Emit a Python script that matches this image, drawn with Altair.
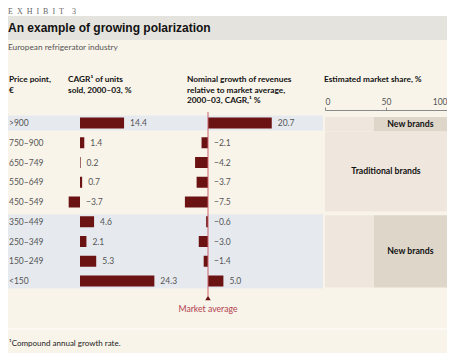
import altair as alt
import pandas as pd

# ---------------- data ----------------
prices = [">900", "750–900", "650–749", "550–649", "450–549",
          "350–449", "250–349", "150–249", "<150"]
cagr_units = [14.4, 1.4, 0.2, 0.7, -3.7, 4.6, 2.1, 5.3, 24.3]
nominal_growth = [20.7, -2.1, -4.2, -3.7, -7.5, -0.6, -3.0, -1.4, 5.0]

# highlighted (new-brand) row groups: first and last row index
highlight_first = [0, 5]
highlight_last = [0, 8]

# estimated market share blocks
share_first = [0, 0, 1, 5, 5]
share_last = [0, 0, 4, 8, 8]
share_brand = ["Traditional", "New", "Traditional", "Traditional", "New"]
share_start = [0, 40, 0, 0, 40]
share_end = [40, 100, 100, 40, 100]
share_label = ["", "New brands", "Traditional brands", "", "New brands"]

share_ticks = [0, 50, 100]

# ---------------- styling ----------------
FONT = "Lato, Roboto, sans-serif"
BAR = "#6b1212"
LABEL_GREY = "#555555"
W, H = 439, 345

rows = pd.DataFrame({"price": prices, "i": list(range(len(prices))),
                     "cagr": cagr_units, "nom": nominal_growth})
hl = pd.DataFrame({"first": highlight_first, "last": highlight_last})
# vertical padding of each market-share block (in row units, style only)
pad_top = {0: 0.3, 1: 0.57, 5: 0.33}
pad_bot = {0: 0.43, 4: 0.48, 8: 0.33}
share = pd.DataFrame({"first": share_first, "last": share_last, "brand": share_brand,
                      "s": share_start, "e": share_end, "label": share_label})
share["y0"] = [f - pad_top[f] for f in share["first"]]
share["y1"] = [l + pad_bot[l] for l in share["last"]]
share["ym"] = (share["y0"] + share["y1"]) / 2
share["xm"] = (share["s"] + share["e"]) / 2

ys = alt.Scale(domain=[0, 8], range=[110, 278], nice=False, zero=False)
cagr_scale = alt.Scale(domain=[-5, 25], range=[56.7, 148.5], nice=False, zero=False)
nom_scale = alt.Scale(domain=[-10, 25], range=[169.2, 277], nice=False, zero=False)
share_scale = alt.Scale(domain=[0, 100], range=[317, 439], nice=False, zero=False)

layers = []

# white strip on top + title band
layers.append(alt.Chart(pd.DataFrame({"a": [0]})).mark_rect(color="white").encode(
    x=alt.value(-10), x2=alt.value(W + 10), y=alt.value(-10), y2=alt.value(8)))
layers.append(alt.Chart(pd.DataFrame({"a": [0]})).mark_rect(color="#e5e3de").encode(
    x=alt.value(-10), x2=alt.value(W + 10), y=alt.value(8), y2=alt.value(32)))

# highlight bands
layers.append(alt.Chart(hl).transform_calculate(
    y0="datum.first - 0.38", y1="datum.last + 0.38").mark_rect(color="#e6eaef").encode(
    x=alt.value(-10), x2=alt.value(315),
    y=alt.Y("y0:Q", scale=ys, axis=None), y2="y1:Q"))

# market share blocks
layers.append(alt.Chart(share).mark_rect().encode(
    x=alt.X("s:Q", scale=share_scale,
            axis=alt.Axis(orient="top", offset=-102, values=share_ticks, title=None,
                          grid=False, tickSize=3, tickColor="#8a8a8a", domainColor="#8a8a8a",
                          labelFont=FONT, labelFontSize=8.5, labelColor=LABEL_GREY,
                          labelPadding=1, labelFlush=True)),
    x2="e:Q",
    y=alt.Y("y0:Q", scale=ys, axis=None), y2="y1:Q",
    color=alt.Color("brand:N", scale=alt.Scale(domain=["Traditional", "New"],
                                               range=["#efe7dd", "#dfd6ca"]), legend=None)))
layers.append(alt.Chart(share).transform_filter("datum.label != ''").mark_text(
    font=FONT, fontSize=8.7, fontWeight="bold", color="#111111", baseline="middle").encode(
    x=alt.X("xm:Q", scale=share_scale, axis=None),
    y=alt.Y("ym:Q", scale=ys, axis=None), text="label:N"))

# CAGR bars + labels
layers.append(alt.Chart(rows).mark_bar(color=BAR, size=11).encode(
    x=alt.X("cagr:Q", scale=cagr_scale, axis=None), x2=alt.datum(0),
    y=alt.Y("i:Q", scale=ys, axis=None)))
layers.append(alt.Chart(rows).transform_calculate(lab="max(datum.cagr, 0)").mark_text(
    font=FONT, fontSize=8.5, color=LABEL_GREY, align="left", baseline="middle", dx=6).encode(
    x=alt.X("lab:Q", scale=cagr_scale, axis=None),
    y=alt.Y("i:Q", scale=ys, axis=None),
    text=alt.Text("cagr:Q", format=".1f")))

# nominal bars + labels
layers.append(alt.Chart(rows).mark_bar(color=BAR, size=11).encode(
    x=alt.X("nom:Q", scale=nom_scale, axis=None), x2=alt.datum(0),
    y=alt.Y("i:Q", scale=ys, axis=None)))
layers.append(alt.Chart(rows).transform_calculate(lab="max(datum.nom, 0)").mark_text(
    font=FONT, fontSize=8.5, color=LABEL_GREY, align="left", baseline="middle", dx=6).encode(
    x=alt.X("lab:Q", scale=nom_scale, axis=None),
    y=alt.Y("i:Q", scale=ys, axis=None),
    text=alt.Text("nom:Q", format=".1f")))

# market average line, marker and label
avg = pd.DataFrame({"v": [0]})
layers.append(alt.Chart(avg).mark_rule(color="#c9606c", strokeWidth=1).encode(
    x=alt.X("v:Q", scale=nom_scale, axis=None), y=alt.value(104), y2=alt.value(288)))
layers.append(alt.Chart(avg).mark_point(shape="triangle-up", filled=True, size=30,
                                        color="#6b1212", opacity=1).encode(
    x=alt.X("v:Q", scale=nom_scale, axis=None), y=alt.value(290)))
layers.append(alt.Chart(avg).mark_text(font=FONT, fontSize=8.7, color="#b2424f",
                                       align="center", baseline="middle").encode(
    x=alt.X("v:Q", scale=nom_scale, axis=None), y=alt.value(301),
    text=alt.value("Market average")))

# row labels
layers.append(alt.Chart(rows).mark_text(font=FONT, fontSize=8.5, color=LABEL_GREY,
                                        align="left", baseline="middle").encode(
    x=alt.value(1), y=alt.Y("i:Q", scale=ys, axis=None), text="price:N"))

# static texts
def txt(s, x, y, size=8.3, weight="bold", color="#111111", font=FONT):
    return alt.Chart(pd.DataFrame({"t": [s]})).mark_text(
        font=font, fontSize=size, fontWeight=weight, color=color,
        align="left", baseline="middle").encode(
        x=alt.value(x), y=alt.value(y), text="t:N")

SP = "\u2002"
layers += [
    txt(SP.join("EXHIBIT") + SP + SP + "3", 0, 3.5, size=8, weight="normal", color="#666666",
        font="Liberation Serif, DejaVu Serif, serif"),
    txt("An example of growing polarization", 0, 20, size=12, weight="bold",
        color="#111111", font="Liberation Sans, Arial, sans-serif"),
    txt("European refrigerator industry", 0, 40, size=8.3, weight="normal", color="#555555"),
    txt("Price point,", 1, 72), txt("€", 1, 83),
    txt("CAGR¹ of units", 60, 72), txt("sold, 2000–03, %", 60, 83),
    txt("Nominal growth of revenues", 179, 72), txt("relative to market average,", 179, 82.5),
    txt("2000–03, CAGR,¹ %", 179, 93),
    txt("Estimated market share, %", 316, 72),
    txt("¹Compound annual growth rate.", 1, 336, size=8, weight="normal", color="#222222"),
]

layers.append(alt.Chart(pd.DataFrame({"a": [0]})).mark_rule(color="#fdfbf6", strokeWidth=1.5).encode(
    x=alt.value(-10), x2=alt.value(W + 10), y=alt.value(321)))

chart = alt.layer(*layers).resolve_scale(x="independent").properties(
    width=W, height=H, autosize=alt.AutoSizeParams(type="none"), padding=0,
    background="#f9f4ea"
).configure_view(stroke=None)

chart.save("out.html", embed_options={"renderer": "svg", "actions": False})
